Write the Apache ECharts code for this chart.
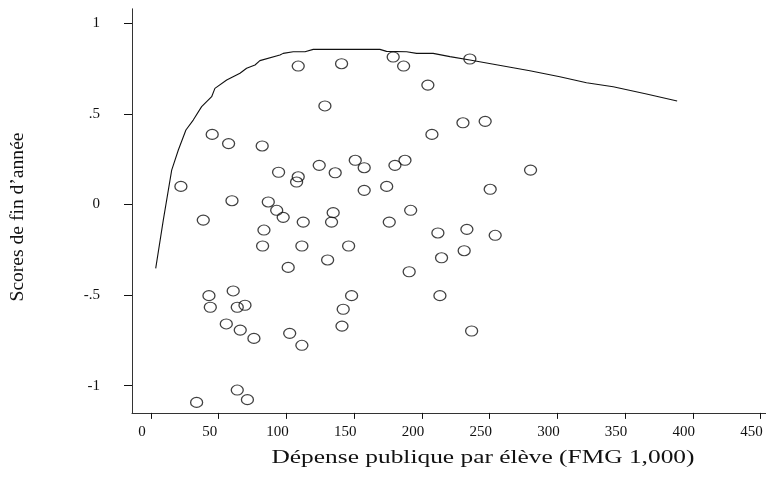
<!DOCTYPE html>
<html>
<head>
<meta charset="utf-8">
<script src="https://cdn.jsdelivr.net/npm/echarts@6/dist/echarts.min.js"></script>
<style>html,body{margin:0;padding:0;background:#fff}#c{width:766px;height:490px}</style>
</head>
<body>
<div id="c"></div>
<script>
// Scatter: spending per pupil (FMG 1,000) vs end-of-year score
const spendX = [108.7,140.7,178.8,186.5,204.4,128.4,45.2,57.3,82.1,207.4,22.1,94.2,108.7,107.5,124.2,136.0,150.8,157.4,180.1,187.5,174.0,157.4,59.8,86.6,92.8,97.6,134.5,133.3,112.4,191.7,175.9,38.6,211.8,214.5,83.4,82.4,111.4,145.9,130.4,101.3,190.6,42.8,60.7,148.1,213.3,43.8,63.7,69.4,141.9,55.6,141.0,65.9,76.0,102.4,111.4,63.7,71.2,33.7,235.4,230.3,246.7,280.2,250.4,233.2,254.1,231.2,236.7];
const scoreY = [0.764,0.777,0.814,0.764,0.659,0.544,0.387,0.336,0.323,0.387,0.100,0.178,0.153,0.124,0.216,0.175,0.244,0.203,0.216,0.244,0.100,0.078,0.021,0.014,-0.032,-0.071,-0.045,-0.097,-0.097,-0.032,-0.097,-0.086,-0.157,-0.294,-0.141,-0.229,-0.229,-0.229,-0.306,-0.347,-0.371,-0.503,-0.477,-0.503,-0.503,-0.567,-0.567,-0.556,-0.578,-0.659,-0.671,-0.693,-0.739,-0.711,-0.777,-1.024,-1.077,-1.092,0.803,0.451,0.459,0.190,0.084,-0.137,-0.170,-0.255,-0.698];
// Fitted curve
const curveX = [3.5,9.1,15.3,20.2,25.8,31.2,37.4,44.8,47.2,55.9,65.7,70.6,76.8,80.4,95.2,97.6,105.0,113.7,119.8,169.0,173.9,188.7,196.1,208.3,220.7,235.4,279.7,301.8,321.5,341.2,365.8,388.4];
const curveY = [-0.352,-0.086,0.190,0.301,0.411,0.466,0.540,0.595,0.641,0.687,0.724,0.752,0.770,0.794,0.825,0.834,0.843,0.843,0.856,0.856,0.845,0.843,0.834,0.834,0.816,0.797,0.738,0.705,0.672,0.650,0.610,0.571];
// Ticks
const xTicks = [0,50,100,150,200,250,300,350,400,450];
const yTicks = [-1,-0.5,0,0.5,1];
const yTickLabels = ['-1','-.5','0','.5','1'];
const xTitle = 'Dépense publique par élève (FMG 1,000)';
const yTitle = 'Scores de fin d\u2019année';

const scatterData = spendX.map((x, i) => [x, scoreY[i]]);
const curveData = curveX.map((x, i) => [x, curveY[i]]);
const font = '"Liberation Serif", "Times New Roman", serif';

function measure(text, f) {
  const ctx = document.createElement('canvas').getContext('2d');
  ctx.font = f;
  return ctx.measureText(text).width;
}
const xTitleFont = '19px ' + font;
const yTitleFont = '18px ' + font;
const xScale = 423 / measure(xTitle, xTitleFont);
const yScale = 169 / measure(yTitle, yTitleFont);

const chart = echarts.init(document.getElementById('c'), null, {renderer: 'canvas'});
chart.setOption({
  animation: false,
  backgroundColor: '#fff',
  grid: {left: 132, right: 0, top: 8.8, bottom: 77.1, containLabel: false},
  xAxis: {
    type: 'value', min: -14, max: 454,
    splitLine: {show: false},
    axisLine: {show: true, onZero: false, lineStyle: {color: '#333', width: 1}},
    axisTick: {show: true, length: 6, customValues: xTicks, lineStyle: {color: '#111'}},
    axisLabel: {customValues: xTicks, margin: 12, color: '#111', fontFamily: font, fontSize: 15, padding: [0, 18, 0, 0]}
  },
  yAxis: {
    type: 'value', min: -1.15, max: 1.08,
    splitLine: {show: false},
    axisLine: {show: true, onZero: false, lineStyle: {color: '#333', width: 1}},
    axisTick: {show: true, length: 8, customValues: yTicks, lineStyle: {color: '#111'}},
    axisLabel: {customValues: yTicks, margin: 32, color: '#111', fontFamily: font, fontSize: 15,
      formatter: v => { const i = yTicks.findIndex(t => Math.abs(t - v) < 1e-9); return i >= 0 ? yTickLabels[i] : ''; }}
  },
  graphic: [
    {type: 'text', x: 483, y: 458, scaleX: xScale, style: {text: xTitle, font: xTitleFont, fill: '#111', align: 'center', verticalAlign: 'middle'}},
    {type: 'text', x: 18, y: 217, rotation: Math.PI / 2, scaleX: yScale, style: {text: yTitle, font: yTitleFont, fill: '#111', align: 'center', verticalAlign: 'middle'}}
  ],
  series: [
    {type: 'scatter', data: scatterData, symbol: 'circle', symbolSize: [12, 10],
     itemStyle: {color: 'rgba(255,255,255,0)', borderColor: '#111', borderWidth: 1.2}, z: 3},
    {type: 'line', data: curveData, showSymbol: false, smooth: false,
     lineStyle: {color: '#111', width: 1.1}, z: 2}
  ]
});
</script>
</body>
</html>
